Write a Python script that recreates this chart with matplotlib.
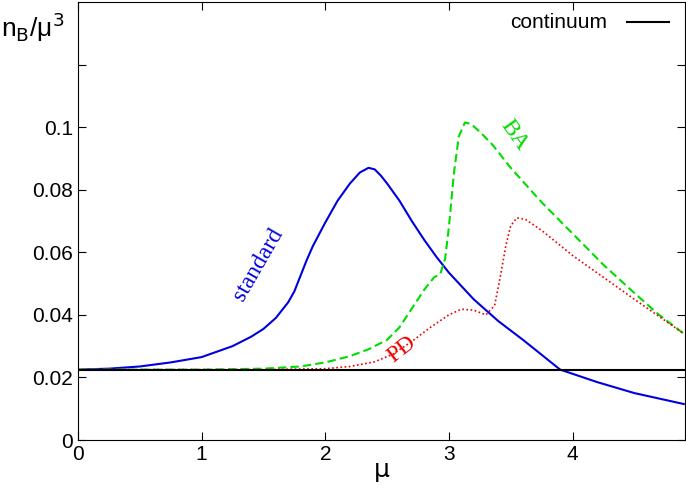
import matplotlib
matplotlib.use("Agg")
import matplotlib.pyplot as plt

std_x = [0, 0.25, 0.5, 0.75, 1.0, 1.25, 1.4, 1.5, 1.6, 1.7, 1.75, 1.8, 1.85, 1.9, 2.0, 2.1, 2.2, 2.28, 2.35, 2.4, 2.45, 2.5, 2.6, 2.7, 2.8, 2.9, 3.0, 3.2, 3.4, 3.6, 3.9, 4.2, 4.5, 4.9]
std_y = [0.0225, 0.0228, 0.0235, 0.0248, 0.0265, 0.030, 0.0330, 0.0355, 0.0390, 0.0440, 0.0475, 0.0525, 0.0575, 0.0620, 0.0695, 0.0765, 0.0820, 0.0855, 0.0870, 0.0865, 0.0845, 0.0820, 0.0765, 0.0700, 0.0640, 0.0585, 0.0535, 0.0450, 0.0380, 0.0320, 0.0225, 0.0185, 0.0150, 0.0115]
ba_x = [0, 1.0, 1.5, 1.8, 2.0, 2.2, 2.35, 2.5, 2.6, 2.7, 2.8, 2.88, 2.93, 2.97, 3.0, 3.04, 3.08, 3.13, 3.18, 3.25, 3.35, 3.5, 3.75, 4.0, 4.25, 4.5, 4.7, 4.9]
ba_y = [0.0225, 0.0225, 0.0228, 0.0235, 0.0248, 0.0268, 0.0290, 0.0320, 0.0360, 0.0420, 0.0480, 0.0520, 0.0530, 0.0580, 0.0680, 0.0850, 0.0970, 0.1015, 0.1010, 0.0985, 0.0945, 0.0870, 0.0760, 0.0660, 0.0560, 0.0470, 0.0400, 0.0340]
pd_x = [0, 1.5, 2.0, 2.2, 2.4, 2.55, 2.7, 2.85, 3.0, 3.1, 3.2, 3.3, 3.37, 3.42, 3.46, 3.5, 3.55, 3.62, 3.75, 4.0, 4.25, 4.5, 4.7, 4.9]
pd_y = [0.0225, 0.0225, 0.0228, 0.0235, 0.0250, 0.0275, 0.0315, 0.0360, 0.0400, 0.0418, 0.0415, 0.0400, 0.0430, 0.0530, 0.0620, 0.0685, 0.0710, 0.0705, 0.0670, 0.0590, 0.0520, 0.0450, 0.0395, 0.0340]
continuum = 0.0225

fig = plt.figure(figsize=(6.86, 4.91), dpi=100)
ax = fig.add_axes([78/686, (491-440)/491, (685-78)/686, 438/491])
ax.plot(std_x, std_y, color="#0000dd", lw=1.5)
ax.plot(ba_x, ba_y, color="#00dd00", lw=1.5, ls=(0, (4, 2)))
ax.plot(pd_x, pd_y, color="#ee0000", lw=1.2, ls=(0, (1, 1.5)))
ax.axhline(continuum, color="black", lw=1.5)
ax.set_xlim(0, 4.91)
ax.set_ylim(0, 0.14)
ax.set_xticks([0, 1, 2, 3, 4])
ax.set_yticks([0, 0.02, 0.04, 0.06, 0.08, 0.1, 0.12])
ax.set_yticklabels(["0", "0.02", "0.04", "0.06", "0.08", "0.1", ""])
ax.tick_params(direction="in", top=True, right=True, labelsize=15, length=6)
for lab in ax.get_xticklabels() + ax.get_yticklabels():
    lab.set_family("Liberation Sans")
ax.set_xlabel("μ", fontsize=18, labelpad=-4)
ax.text(-0.62, 0.132, r"n$_\mathrm{B}$/μ$^3$", fontsize=19, ha="left", va="center",
        family="Liberation Sans", transform=ax.transData, clip_on=False)
ax.text(4.28, 0.1335, "continuum", fontsize=15, ha="right", va="center", family="Liberation Sans")
ax.plot([4.44, 4.78], [0.1335, 0.1335], color="black", lw=1.5)
ax.text(1.46, 0.056, "standard", color="#0000dd", fontsize=17, family="Liberation Serif", rotation=60, ha="center", va="center")
ax.text(3.53, 0.0975, "BA", color="#00dd00", fontsize=17, family="Liberation Serif", rotation=-55, ha="center", va="center")
ax.text(2.62, 0.029, "PD", color="#ee0000", fontsize=17, family="Liberation Serif", rotation=38, ha="center", va="center")
fig.savefig("out.png", dpi=100)
